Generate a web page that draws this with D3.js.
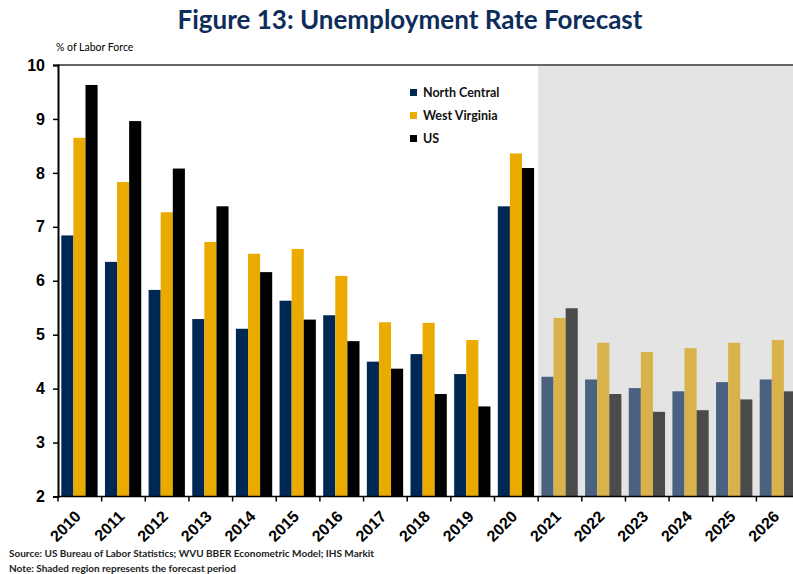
<!DOCTYPE html>
<html>
<head>
<meta charset="utf-8">
<script src="https://cdn.jsdelivr.net/npm/d3@7"></script>
<style>
  html, body { margin: 0; padding: 0; background: #fff; }
  svg { display: block; }
</style>
</head>
<body>
<svg id="chart" width="793" height="574"></svg>
<script>
// Annual unemployment rate, % of labor force
const years = ["2010","2011","2012","2013","2014","2015","2016","2017","2018","2019","2020","2021","2022","2023","2024","2025","2026"];
const seriesNames = ["North Central", "West Virginia", "US"];
const northCentral = [6.84, 6.35, 5.83, 5.29, 5.11, 5.63, 5.36, 4.50, 4.64, 4.27, 7.38, 4.22, 4.17, 4.01, 3.95, 4.12, 4.17];
const westVirginia = [8.65, 7.83, 7.27, 6.72, 6.50, 6.59, 6.09, 5.23, 5.22, 4.90, 8.36, 5.31, 4.85, 4.68, 4.75, 4.85, 4.90];
const us = [9.63, 8.96, 8.08, 7.38, 6.16, 5.28, 4.88, 4.37, 3.90, 3.67, 8.09, 5.49, 3.90, 3.57, 3.60, 3.80, 3.95];
const forecastStart = "2021";
const yTicks = [2, 3, 4, 5, 6, 7, 8, 9, 10];

const seriesValues = [northCentral, westVirginia, us];
const colors = ["#002855", "#EAAA00", "#000000"];
const forecastColors = ["#4A6180", "#D9B24B", "#4B4B4B"];

const svg = d3.select("#chart");
const plotLeft = 58, plotTop = 65, plotBottom = 496.5, step = 43.65;

const x0 = d3.scaleBand().domain(years).range([plotLeft, plotLeft + step * years.length]).padding(0);
const x1 = d3.scaleBand().domain(seriesNames).range([3.3, 39.6]).padding(0);
const y = d3.scaleLinear().domain([2, 10]).range([plotBottom, plotTop]);

// Title
svg.append("text")
  .attr("x", 410).attr("y", 29)
  .attr("text-anchor", "middle")
  .attr("font-family", "Lato, 'Open Sans', sans-serif")
  .attr("font-weight", "bold")
  .attr("font-size", 26)
  .attr("fill", "#0D2D5A")
  .text("Figure 13: Unemployment Rate Forecast");

// Axis unit label
svg.append("text")
  .attr("x", 56).attr("y", 51)
  .attr("font-family", "Lato, sans-serif")
  .attr("font-size", 10.5)
  .attr("fill", "#000")
  .text("% of Labor Force");

// Forecast period shading
const fx = x0(forecastStart);
svg.append("rect")
  .attr("x", fx).attr("y", plotTop + 1)
  .attr("width", 793 - fx).attr("height", plotBottom - plotTop - 1)
  .attr("fill", "#E4E4E4");

// Bars
const rows = years.map((yr, i) => ({ year: yr, idx: i, forecast: +yr >= +forecastStart }));
const groups = svg.append("g").selectAll("g").data(rows).join("g")
  .attr("transform", d => `translate(${x0(d.year)},0)`);

groups.selectAll("rect")
  .data(d => seriesNames.map((s, k) => ({ s, k, v: seriesValues[k][d.idx], forecast: d.forecast })))
  .join("rect")
  .attr("x", d => x1(d.s))
  .attr("width", x1.bandwidth())
  .attr("y", d => y(d.v))
  .attr("height", d => y(2) - y(d.v))
  .attr("fill", d => d.forecast ? forecastColors[d.k] : colors[d.k]);

// Frame: top line
svg.append("line")
  .attr("x1", plotLeft).attr("x2", 793)
  .attr("y1", plotTop).attr("y2", plotTop)
  .attr("stroke", "#333").attr("stroke-width", 1.5);

// Y axis
const yAxis = svg.append("g")
  .attr("transform", `translate(${plotLeft},0)`)
  .call(d3.axisLeft(y).tickValues(yTicks).tickSize(5).tickPadding(8).tickFormat(d3.format("d")));
yAxis.select(".domain").attr("stroke", "#000").attr("stroke-width", 2);
yAxis.selectAll(".tick line").attr("stroke", "#000").attr("stroke-width", 1.5);
yAxis.selectAll("text")
  .attr("font-family", "Arial, 'Liberation Sans', sans-serif")
  .attr("font-weight", "bold")
  .attr("font-size", 16)
  .attr("fill", "#000");

// X axis
const xAxisG = svg.append("g").attr("transform", `translate(0,${plotBottom})`);
xAxisG.append("line")
  .attr("x1", plotLeft).attr("x2", 793)
  .attr("stroke", "#000").attr("stroke-width", 1.5);
xAxisG.selectAll(".tickmark").data(years).join("line")
  .attr("class", "tickmark")
  .attr("x1", d => x0(d)).attr("x2", d => x0(d))
  .attr("y1", 0).attr("y2", 5)
  .attr("stroke", "#000").attr("stroke-width", 1.5);
xAxisG.selectAll(".xlabel").data(years).join("text")
  .attr("class", "xlabel")
  .attr("text-anchor", "end")
  .attr("transform", d => `translate(${x0(d) + x0.bandwidth() / 2 + 2},${21}) rotate(-45)`)
  .attr("font-family", "Arial, 'Liberation Sans', sans-serif")
  .attr("font-weight", "bold")
  .attr("font-size", 16)
  .attr("fill", "#000")
  .text(d => d);

// Legend
const legend = svg.append("g").attr("transform", "translate(410,93)");
seriesNames.forEach((s, k) => {
  const g = legend.append("g").attr("transform", `translate(0,${k * 23})`);
  g.append("rect").attr("x", 0).attr("y", -4).attr("width", 7).attr("height", 7).attr("fill", colors[k]);
  g.append("text")
    .attr("x", 13).attr("y", 4)
    .attr("font-family", "Lato, sans-serif")
    .attr("font-weight", "bold")
    .attr("font-size", 12.5)
    .attr("fill", "#111")
    .text(s);
});

// Footnotes
const notes = [
  "Source: US Bureau of Labor Statistics; WVU BBER Econometric Model; IHS Markit",
  "Note: Shaded region represents the forecast period"
];
svg.selectAll(".note").data(notes).join("text")
  .attr("class", "note")
  .attr("x", 9)
  .attr("y", (d, i) => 557 + i * 15)
  .attr("font-family", "Lato, sans-serif")
  .attr("font-weight", "bold")
  .attr("font-size", 10)
  .attr("fill", "#222")
  .text(d => d);
</script>
</body>
</html>
